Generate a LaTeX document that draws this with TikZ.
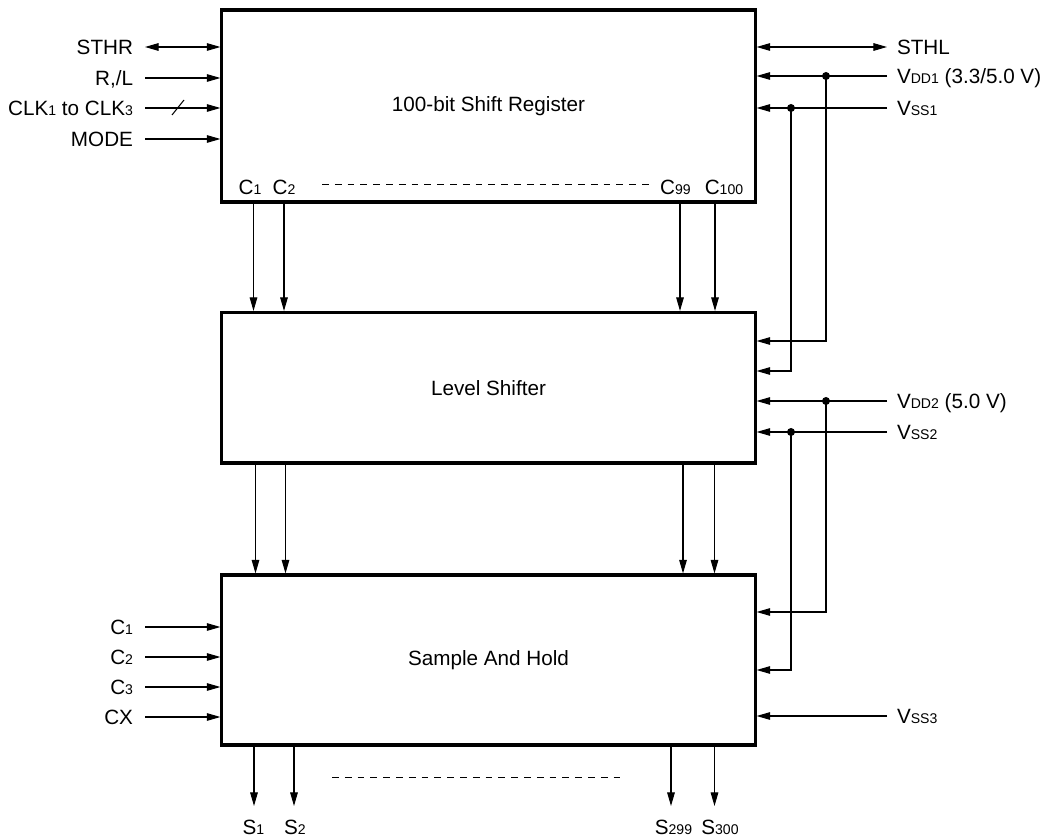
\documentclass[tikz,border=0pt]{standalone}
\usepackage{fontspec}
\setmainfont{Liberation Sans}
\usetikzlibrary{arrows.meta}
\newcommand{\sbs}[1]{\raisebox{-0.3pt}{\fontsize{10}{10}\selectfont #1}}

\begin{document}
\begin{tikzpicture}[x=0.025cm, y=-0.025cm,
    font=\fontsize{14.7}{17}\selectfont,
    blk/.style={draw, line width=2.2pt, inner sep=0, minimum width=13.325cm},
    sig/.style={line width=0.75pt, -{Triangle[length=0.34cm, width=0.19cm]}},
    dsig/.style={line width=0.75pt, {Triangle[length=0.34cm, width=0.19cm]}-{Triangle[length=0.34cm, width=0.19cm]}},
    wire/.style={line width=0.75pt},
    inl/.style={inner sep=0, outer sep=0.3cm, text height=10.5pt, text depth=0pt, anchor=east},
    outl/.style={inner sep=0, outer sep=0.25cm, text height=10.5pt, text depth=0pt, anchor=west},
    pin/.style={inner sep=0, text height=10.5pt, text depth=0pt},
    dots/.style={line width=0.6pt, dash pattern=on 0.17cm off 0.15cm}]
    \useasboundingbox (0,0) rectangle (1052,839);

    % blocks
    \node[blk, minimum height=4.8cm] (sr) at (488.5,106) {100-bit Shift Register};
    \node[blk, minimum height=3.7625cm] (ls) at (488.5,387.75) {Level Shifter};
    \node[blk, minimum height=4.25cm] (sh) at (488.5,660) {Sample And Hold};

    % left inputs
    \node[inl] (sthr) at (145,47) {STHR};
    \node[inl] (rl) at (145,78) {R,/L};
    \node[inl] (clk) at (145,108) {CLK\sbs{1} to CLK\sbs{3}};
    \node[inl] (mode) at (145,139) {MODE};
    \draw[dsig] (sthr.east) -- (sthr.east -| sr.west);
    \draw[sig] (rl.east) -- (rl.east -| sr.west);
    \draw[sig] (clk.east) -- (clk.east -| sr.west);
    \draw[sig] (mode.east) -- (mode.east -| sr.west);
    \draw[wire] ([shift={(27,7)}]clk.east) -- ([shift={(39,-8)}]clk.east);

    \node[inl] (ca) at (145,627) {C\sbs{1}};
    \node[inl] (cb) at (145,657) {C\sbs{2}};
    \node[inl] (cc) at (145,687) {C\sbs{3}};
    \node[inl] (cx) at (145,717) {CX};
    \foreach \n in {ca,cb,cc,cx}
        \draw[sig] (\n.east) -- (\n.east -| sh.west);

    % right side supplies
    \node[outl] (sthl) at (887,47) {STHL};
    \node[outl] (vdda) at (887,76) {V\sbs{DD1} (3.3/5.0 V)};
    \node[outl] (vssa) at (887,108) {V\sbs{SS1}};
    \node[outl] (vddb) at (887,401) {V\sbs{DD2} (5.0 V)};
    \node[outl] (vssb) at (887,432) {V\sbs{SS2}};
    \node[outl] (vssc) at (887,716) {V\sbs{SS3}};
    \draw[dsig] (sthl.west) -- (sthl.west -| sr.east);
    \draw[sig] (vdda.west) -- (vdda.west -| sr.east);
    \draw[sig] (vssa.west) -- (vssa.west -| sr.east);
    \draw[sig] (vddb.west) -- (vddb.west -| ls.east);
    \draw[sig] (vssb.west) -- (vssb.west -| ls.east);
    \draw[sig] (vssc.west) -- (vssc.west -| sh.east);

    \coordinate (ja) at (826,76);
    \coordinate (jb) at (791,108);
    \coordinate (jc) at (826,401);
    \coordinate (jd) at (791,432);
    \coordinate (ka) at (826,341);
    \coordinate (kb) at (791,371);
    \coordinate (kc) at (826,612);
    \coordinate (kd) at (791,670);
    \draw[sig] (ja) -- (ka) -- (ka -| ls.east);
    \draw[sig] (jb) -- (kb) -- (kb -| ls.east);
    \draw[sig] (jc) -- (kc) -- (kc -| sh.east);
    \draw[sig] (jd) -- (kd) -- (kd -| sh.east);
    \foreach \j in {ja,jb,jc,jd}
        \fill (\j) circle (0.1cm);

    % parallel outputs
    \node[pin] (c1) at (250,187) {C\sbs{1}};
    \node[pin] (c2) at (284,187) {C\sbs{2}};
    \node[pin] (c99) at (675.5,187) {C\sbs{99}};
    \node[pin] (c100) at (724,187) {C\sbs{100}};
    \draw[dots] (322,184) -- (650,184);
    \foreach \x in {253.5,284,680,715}
        \draw[sig] (sr.south -| \x,0) -- (ls.north -| \x,0);
    \foreach \x in {255.5,285.5,683,714.5}
        \draw[sig] (ls.south -| \x,0) -- (sh.north -| \x,0);

    \node[pin] (s1) at (253.5,827) {S\sbs{1}};
    \node[pin] (s2) at (295,827) {S\sbs{2}};
    \node[pin] (s299) at (673.5,827) {S\sbs{299}};
    \node[pin] (s300) at (720,827) {S\sbs{300}};
    \draw[dots] (332,777) -- (623,777);
    \foreach \x in {254,294,671,714.5}
        \draw[sig] (sh.south -| \x,0) -- (\x,806);
\end{tikzpicture}
\end{document}
